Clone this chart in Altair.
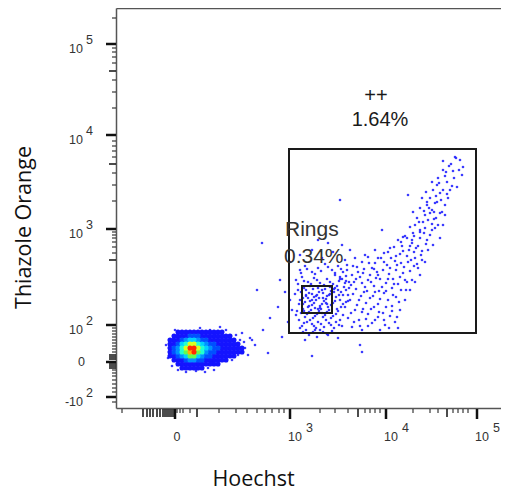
import altair as alt
import pandas as pd

# Display-channel units of the biexponential display (Hoechst: 0-385, Thiazole Orange: 0-400)
X_DOMAIN = [0, 385]
Y_DOMAIN = [0, 400]

# ---- axis ticks (display-channel positions) ----
x_tick_major = [59, 174, 270, 361]
x_tick_base = ["0", "10", "10", "10"]
x_tick_exp = ["", "3", "4", "5"]
x_tick_mid = [27, 31, 34, 37, 41, 44, 47, 49, 51, 53, 55, 57, 81, 242, 331]
x_tick_minor = [6, 61, 64, 67, 74, 103, 120, 131, 141, 149, 156, 163, 168, 204, 219, 232,
                249, 254, 259, 264, 297, 314, 322, 337, 342, 347, 352]

y_tick_major = [364, 273, 179, 83, 46, 11]
y_tick_base = ["10", "10", "10", "10", "0", "-10"]
y_tick_exp = ["5", "4", "3", "2", "", "2"]
y_tick_mid = [337, 244, 148, 53, 51, 49, 44, 42, 40]
y_tick_minor = [390, 360, 356, 351, 345, 328, 316, 300, 267, 262, 257, 251, 235, 223, 207,
                176, 173, 170, 166, 161, 155, 126, 108, 80, 77, 74, 71, 68, 65, 62, 59, 56,
                38, 35, 32, 28, 24, 20, 16, 6]

# ---- sparse events (Hoechst channel, Thiazole Orange channel) ----
events_x = [
    339, 327, 347, 337, 327, 316, 321, 331, 334, 317, 327, 324, 341, 346, 332, 314, 306, 321, 311, 316,
    318, 314, 304, 324, 297, 292, 309, 301, 307, 322, 327, 294, 304, 297, 287, 266, 224, 344, 335, 329,
    322, 310, 320, 329, 312, 299, 316,
    282, 289, 296, 304, 310, 300, 286, 293, 308,
    272, 278, 284, 291, 298, 305, 275, 302, 259,
    246, 252, 259, 265, 271, 279, 285, 292, 298, 256, 267, 249, 239, 234,
    231, 237, 242, 248, 254, 261, 273, 280, 287, 294, 277, 264, 240, 282,
    224, 230, 235, 246, 252, 258, 270, 276, 285, 289, 263, 251,
    222, 227, 240, 245, 257, 268, 272, 280, 234, 250, 262, 276,
    229, 239, 246, 255, 267, 274, 232, 243, 259, 252, 269, 264,
    279, 284, 289, 294, 299, 304, 309, 282, 236, 246,
    314, 319, 312, 306, 317, 324, 302, 296, 290, 320, 329,
    184, 189, 196, 202, 209, 216, 222, 227,
    180, 186, 192, 198, 204, 211, 217, 223, 228,
    182, 188, 193, 197, 201, 206, 211, 215, 220, 225,
    184, 189, 192, 196, 200, 204, 208, 212, 217, 221, 227,
    181, 187, 191, 195, 199, 203, 207, 211, 215, 220, 224,
    183, 188, 194, 198, 202, 208, 213, 218, 223,
    190, 197, 204, 211, 184,
    219, 224, 230, 214, 218, 229, 232, 224, 219,
    194, 202, 207, 190, 198, 210, 202, 193, 206, 187,
    184, 196, 206, 217, 226, 174, 212, 229, 202,
    201, 212, 244, 246, 196, 222, 189,
    146, 141, 162, 166, 147, 152, 136, 164, 154, 172, 174, 176, 169,
    99, 104, 109, 114, 106, 112, 119, 124, 129, 122, 102, 116, 96, 126, 134, 110, 92, 89, 98, 132,
    120, 104, 94, 139, 128,
    50, 52, 56, 62, 70, 80, 59, 84,
    185, 191, 199, 205, 212, 219, 225, 231,
    182, 188, 195, 201, 208, 214, 221, 226, 233,
    179, 185, 190, 196, 203, 209, 213, 218, 223, 230,
    183, 187, 194, 198, 203, 206, 210, 215, 219, 225, 230,
    180, 185, 189, 193, 197, 201, 205, 209, 213, 217, 222, 227,
    186, 191, 196, 200, 205, 210, 215, 220, 226,
    193, 199, 207, 216, 187,
    188, 192, 196, 200, 204, 207, 211, 214, 190, 199,
    236, 241, 247, 253, 258, 262, 268, 274, 281, 288, 295, 301,
    233, 238, 244, 249, 255, 260, 266, 272, 278, 284, 291,
    232, 237, 243, 248, 254, 259, 264, 270, 277, 283,
    235, 241, 247, 252, 258, 263, 270, 276, 281,
    238, 244, 250, 256, 262, 268, 273,
    262, 268, 274, 280, 287, 294, 299, 306,
    285, 291, 298, 304, 311, 316, 303, 309, 296,
    313, 319, 325, 331, 336, 338, 343, 333, 340, 326, 318, 308, 311, 323, 330,
]
events_y = [
    251, 247, 241, 237, 238, 226, 223, 226, 218, 218, 218, 215, 221, 233, 210, 210, 210, 206, 203, 198,
    196, 195, 200, 195, 196, 213, 193, 190, 186, 183, 183, 181, 178, 175, 171, 178, 208, 248, 244, 232,
    230, 216, 212, 203, 188, 183, 178,
    168, 172, 165, 170, 164, 160, 162, 158, 175,
    156, 161, 154, 152, 156, 153, 150, 162, 158,
    146, 151, 145, 150, 143, 147, 145, 146, 142, 140, 138, 153, 150, 158,
    138, 142, 136, 139, 133, 136, 134, 138, 135, 137, 129, 129, 129, 124,
    131, 127, 123, 125, 128, 122, 125, 120, 118, 128, 117, 117,
    118, 113, 119, 112, 112, 115, 108, 111, 108, 105, 104, 102,
    101, 98, 96, 99, 95, 92, 90, 88, 88, 82, 83, 78,
    86, 98, 108, 118, 126, 133, 146, 80, 81, 78,
    173, 180, 158, 148, 163, 170, 140, 128, 118, 190, 193,
    138, 142, 136, 140, 144, 138, 142, 136,
    128, 131, 126, 130, 125, 129, 124, 127, 121,
    118, 120, 115, 119, 113, 118, 112, 117, 111, 116,
    108, 106, 110, 103, 108, 102, 107, 101, 105, 99, 104,
    97, 99, 94, 98, 92, 97, 91, 96, 90, 94, 88,
    88, 85, 88, 82, 86, 81, 85, 80, 83,
    78, 76, 78, 74, 80,
    133, 129, 132, 121, 116, 125, 113, 108, 120,
    122, 120, 115, 113, 111, 105, 99, 102, 95, 104,
    153, 158, 150, 156, 163, 146, 165, 148, 168,
    71, 73, 63, 56, 52, 70, 68,
    165, 118, 101, 71, 78, 55, 68, 128, 90, 86, 108, 98, 116,
    73, 68, 71, 66, 60, 56, 63, 68, 60, 53, 50, 48, 46, 75, 70, 78, 40, 36, 38, 53,
    73, 81, 78, 63, 66,
    63, 50, 42, 38, 36, 37, 78, 80,
    135, 139, 134, 137, 141, 135, 139, 143,
    124, 127, 124, 128, 123, 126, 122, 129, 126,
    114, 116, 118, 114, 116, 119, 113, 119, 113, 118,
    104, 110, 107, 105, 110, 104, 109, 103, 107, 101, 106,
    93, 95, 91, 96, 90, 94, 99, 93, 98, 92, 97, 93,
    82, 86, 84, 80, 84, 88, 83, 86, 82,
    73, 78, 76, 77, 76,
    97, 101, 108, 112, 100, 110, 104, 114, 112, 100,
    133, 141, 135, 145, 139, 133, 146, 140, 143, 141, 148, 144,
    120, 126, 131, 121, 126, 130, 121, 129, 124, 131, 126,
    107, 114, 108, 116, 110, 116, 109, 117, 113, 106,
    95, 103, 99, 94, 101, 96, 101, 97, 91,
    86, 82, 89, 85, 91, 88, 80,
    150, 155, 160, 152, 157, 162, 150, 157,
    166, 170, 172, 176, 168, 184, 186, 180, 168,
    200, 205, 208, 214, 222, 230, 238, 242, 250, 196, 189, 197, 206, 225, 236,
]

# ---- dense main population: density level per display cell (0 = empty, 9 = highest) ----
core_cols = [54, 58, 62, 66, 70, 74, 78, 82, 86, 90, 94, 98, 102, 106, 110, 114, 118, 122, 126, 130]
core_rows = [76, 72, 68, 64, 60, 56, 52, 48, 44, 40]
core_density = [
    "00111111111111000000",
    "01111222111111110000",
    "11123443221111111000",
    "11245775432211111100",
    "12357997543221111110",
    "12356896532211111110",
    "11234664322111111000",
    "01112332211111100000",
    "00111111111110000000",
    "00011111100000000000",
]
density_levels = [1, 2, 3, 4, 5, 6, 7, 8, 9]
density_colors = ["#1414ff", "#0050ff", "#0090ff", "#00d0ff", "#20ffd0",
                  "#60ff50", "#d8ff20", "#ffb000", "#ff2a00"]

# ---- gates ----
gate_x1 = [173, 186]
gate_x2 = [360, 216]
gate_y1 = [75, 95]
gate_y2 = [259, 122]

gate_center_text = ["++", "1.64%"]
gate_center_x = [260, 264]
gate_center_y = [306, 282]
gate_left_text = ["Rings", "0.34%"]
gate_left_x = [169, 168]
gate_left_y = [172, 145]

# ---------------------------------------------------------------
xs = alt.Scale(domain=X_DOMAIN, nice=False, zero=False)
ys = alt.Scale(domain=Y_DOMAIN, nice=False, zero=False)

axis_common = dict(
    labels=False, ticks=False, grid=False,
    domainColor="#555555", domainWidth=1.5,
    titleFont="Open Sans", titleFontSize=21.5, titleFontWeight="normal",
    titleColor="#111111", titleAlign="center",
)

events = pd.DataFrame({"hoechst": events_x, "to": events_y})
cells = pd.DataFrame(
    [{"hoechst": core_cols[i], "to": core_rows[j], "level": int(ch)}
     for j, row in enumerate(core_density) for i, ch in enumerate(row) if ch != "0"]
).sort_values("level")

scatter = alt.Chart(events).mark_circle(size=7, color="#2626ff", opacity=0.9).encode(
    x=alt.X("hoechst:Q", scale=xs,
            axis=alt.Axis(title="Hoechst", titleX=137, titleY=77, titleBaseline="alphabetic", **axis_common)),
    y=alt.Y("to:Q", scale=ys,
            axis=alt.Axis(title="Thiazole Orange", titleX=-92, titleY=219, titleAngle=-90,
                          titleBaseline="middle", **axis_common)),
)

core = alt.Chart(cells).mark_circle(size=26, opacity=1).encode(
    x=alt.X("hoechst:Q", scale=xs, axis=None),
    y=alt.Y("to:Q", scale=ys, axis=None),
    color=alt.Color("level:O", scale=alt.Scale(domain=density_levels, range=density_colors), legend=None),
    order=alt.Order("level:Q"),
)

gates = alt.Chart(pd.DataFrame({"x1": gate_x1, "x2": gate_x2, "y1": gate_y1, "y2": gate_y2})).mark_rect(
    fill=None, stroke="#1a1a1a", strokeWidth=2
).encode(
    x=alt.X("x1:Q", scale=xs, axis=None), x2="x2:Q",
    y=alt.Y("y1:Q", scale=ys, axis=None), y2="y2:Q",
)

center_txt = alt.Chart(pd.DataFrame({"t": gate_center_text, "x": gate_center_x, "y": gate_center_y})).mark_text(
    font="Liberation Sans", fontSize=20, color="#1a1a1a", align="center", baseline="alphabetic"
).encode(
    x=alt.X("x:Q", scale=xs, axis=alt.Axis(orient="top", ticks=False, labels=False, title=None,
                                           domainColor="#555555", domainWidth=1.5, grid=False)),
    y=alt.Y("y:Q", scale=ys, axis=None),
    text="t:N",
)

left_txt = alt.Chart(pd.DataFrame({"t": gate_left_text, "x": gate_left_x, "y": gate_left_y})).mark_text(
    font="Liberation Sans", fontSize=21, color="#333333", align="left", baseline="alphabetic"
).encode(
    x=alt.X("x:Q", scale=xs, axis=None),
    y=alt.Y("y:Q", scale=ys, axis=None),
    text="t:N",
)


# ---- tick marks ----
def x_ticks(vals, length, width):
    return alt.Chart(pd.DataFrame({"pos": vals})).mark_rule(color="#111111", strokeWidth=width).encode(
        x=alt.X("pos:Q", scale=xs, axis=None), y=alt.value(401), y2=alt.value(401 + length))


def y_ticks(vals, length, width):
    return alt.Chart(pd.DataFrame({"pos": vals})).mark_rule(color="#111111", strokeWidth=width).encode(
        y=alt.Y("pos:Q", scale=ys, axis=None), x=alt.value(-length), x2=alt.value(0))


tick_layers = [
    x_ticks(x_tick_minor, 4, 1), x_ticks(x_tick_mid, 8, 1.5), x_ticks(x_tick_major, 10, 2.5),
    y_ticks(y_tick_minor, 4, 1), y_ticks(y_tick_mid, 7, 1.5), y_ticks(y_tick_major, 10, 2.5),
]

# ---- tick labels (base and raised exponent) ----
xl = pd.DataFrame({"pos": x_tick_major, "base": x_tick_base, "exp": x_tick_exp})
yl = pd.DataFrame({"pos": y_tick_major, "base": y_tick_base, "exp": y_tick_exp})
lab = dict(font="Liberation Sans", fontSize=12.5, color="#333333", baseline="middle")

x_base = alt.Chart(xl).transform_filter("datum.exp != ''").mark_text(align="left", dx=-2, **lab).encode(
    x=alt.X("pos:Q", scale=xs, axis=None), y=alt.value(429), text="base:N")
x_exp = alt.Chart(xl).transform_filter("datum.exp != ''").mark_text(align="left", dx=16, **lab).encode(
    x=alt.X("pos:Q", scale=xs, axis=None), y=alt.value(420), text="exp:N")
x_zero = alt.Chart(xl).transform_filter("datum.exp == ''").mark_text(align="center", dx=2, **lab).encode(
    x=alt.X("pos:Q", scale=xs, axis=None), y=alt.value(429), text="base:N")

y_base = alt.Chart(yl).transform_filter("datum.exp != ''").mark_text(align="right", dy=5, **lab).encode(
    y=alt.Y("pos:Q", scale=ys, axis=None), x=alt.value(-33), text="base:N")
y_exp = alt.Chart(yl).transform_filter("datum.exp != ''").mark_text(align="left", dy=-4, **lab).encode(
    y=alt.Y("pos:Q", scale=ys, axis=None), x=alt.value(-30), text="exp:N")
y_zero = alt.Chart(yl).transform_filter("datum.exp == ''").mark_text(align="right", dy=0, **lab).encode(
    y=alt.Y("pos:Q", scale=ys, axis=None), x=alt.value(-31), text="base:N")

chart = alt.layer(
    scatter, core, gates, center_txt, left_txt, *tick_layers,
    x_base, x_exp, x_zero, y_base, y_exp, y_zero,
).resolve_axis(x="independent", y="independent").properties(
    width=385, height=400,
    autosize=alt.AutoSizeParams(type="none"),
    padding={"left": 108, "top": 0, "right": 0, "bottom": 84},
    background="white",
).configure_view(stroke=None)

chart.save("out.html", embed_options={"renderer": "svg", "actions": False})
